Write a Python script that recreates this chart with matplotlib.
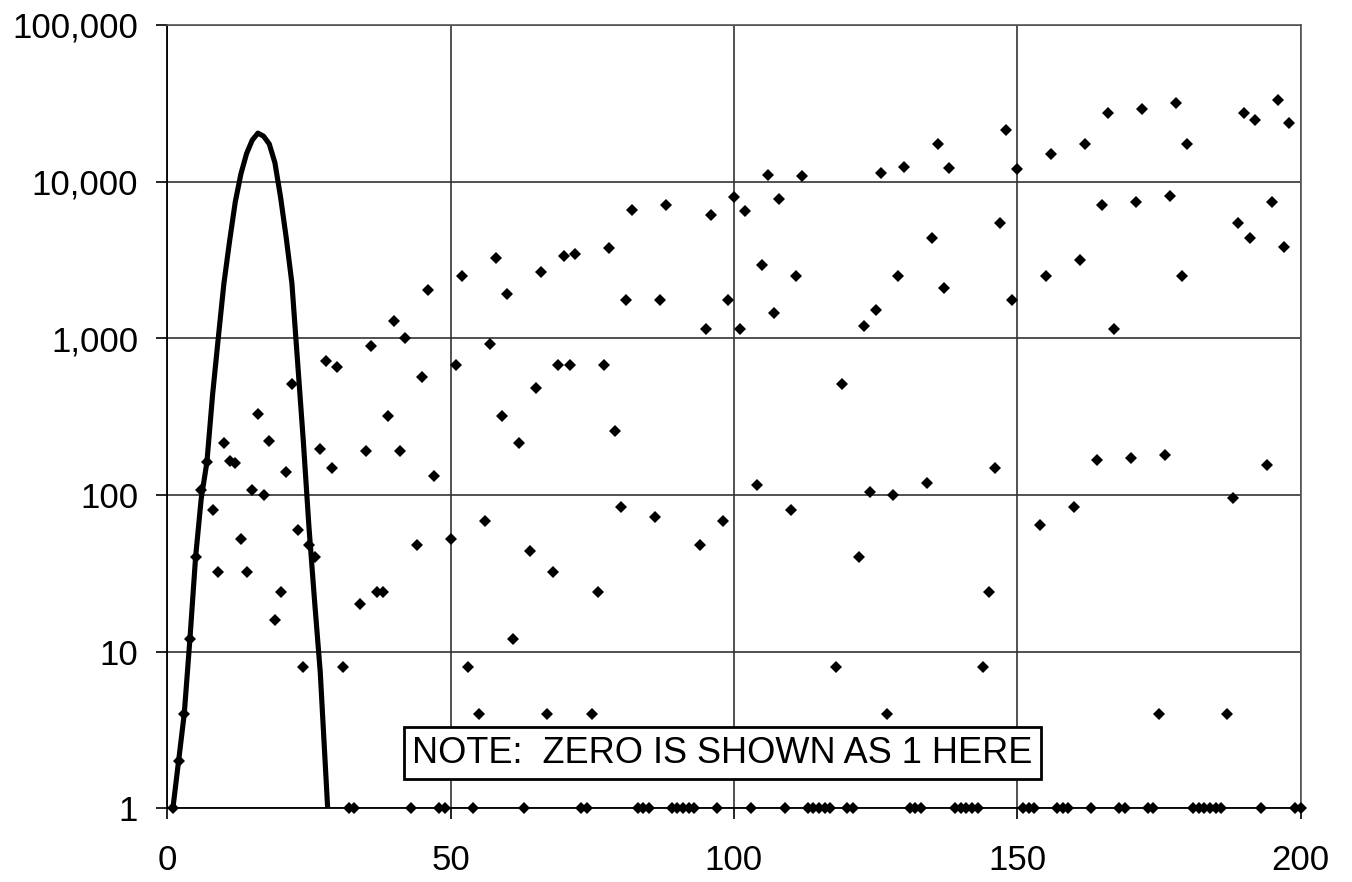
import numpy as np
import matplotlib
matplotlib.use("Agg")
import matplotlib.pyplot as plt
from matplotlib.ticker import FuncFormatter, FixedLocator, NullLocator

# -------------------------------------------------
# data (zero values are plotted as 1)
# -------------------------------------------------
counts = [
    1, 2, 4, 12, 40, 108, 162, 80, 32, 216,
    165, 160, 52, 32, 108, 328, 100, 220, 16, 24,
    140, 510, 60, 8, 48, 40, 196, 720, 148, 660,
    8, 1, 1, 20, 192, 890, 24, 24, 318, 1290,
    192, 1010, 1, 48, 570, 2040, 132, 1, 1, 52,
    675, 2500, 8, 1, 4, 68, 920, 3250, 318, 1920,
    12, 215, 1, 44, 480, 2640, 4, 32, 675, 3370,
    675, 3430, 1, 1, 4, 24, 675, 3750, 256, 84,
    1750, 6600, 1, 1, 1, 72, 1760, 7100, 1, 1,
    1, 1, 1, 48, 1150, 6100, 1, 68, 1760, 8000,
    1150, 6500, 1, 115, 2930, 11100, 1450, 7800, 1, 80,
    2500, 10800, 1, 1, 1, 1, 1, 8, 510, 1,
    1, 40, 1200, 104, 1510, 11400, 4, 100, 2500, 12400,
    1, 1, 1, 119, 4350, 17500, 2100, 12200, 1, 1,
    1, 1, 1, 8, 24, 148, 5450, 21500, 1750, 12000,
    1, 1, 1, 64, 2500, 14900, 1, 1, 1, 84,
    3150, 17500, 1, 167, 7050, 27400, 1150, 1, 1, 172,
    7400, 28900, 1, 1, 4, 179, 8100, 31600, 2500, 17300,
    1, 1, 1, 1, 1, 1, 4, 96, 5450, 27500,
    4350, 24600, 1, 155, 7400, 33200, 3800, 23800, 1, 1,
]
n_values = np.arange(1, len(counts) + 1)

curve_x = [1, 2, 3, 4, 5, 6, 7, 8, 9, 10, 11, 12, 13, 14, 15,
           16, 17, 18, 19, 20, 21, 22, 23, 24, 25, 26, 27, 28, 29]
curve_y = [1, 2, 4, 12, 40, 95, 162, 436, 1000, 2240, 4170, 7400, 11200, 15100, 18400,
           20400, 19500, 17400, 13200, 7940, 4370, 2240, 708, 224, 63, 21, 7.4, 1.6, 0.35]

x_ticks = [0, 50, 100, 150, 200]
y_ticks = [1, 10, 100, 1000, 10000, 100000]
note = "NOTE:  ZERO IS SHOWN AS 1 HERE"

# -------------------------------------------------
# plot
# -------------------------------------------------
plt.rcParams["font.family"] = ["Liberation Sans", "DejaVu Sans"]

fig = plt.figure(figsize=(13.52, 8.82), dpi=100)
ax = fig.add_axes([0.1237, 0.0836, 0.962 - 0.1237, 0.9717 - 0.0836])

ax.set_yscale("log")
ax.set_xlim(0, 200)
ax.set_ylim(1, 100000)

ax.grid(True, which="major", color="#333333", lw=1.2)
ax.set_axisbelow(True)

ax.plot(curve_x, curve_y, color="black", lw=3.7, solid_joinstyle="round", zorder=3)
ax.plot(n_values, counts, linestyle="none", marker="D", ms=5.8, mew=0,
        color="black", clip_on=False, zorder=4)

ax.xaxis.set_major_locator(FixedLocator(x_ticks))
ax.yaxis.set_major_locator(FixedLocator(y_ticks))
ax.yaxis.set_minor_locator(NullLocator())
ax.yaxis.set_major_formatter(FuncFormatter(lambda v, p: f"{v:,.0f}"))

ax.tick_params(axis="both", direction="out", length=8, width=1.2,
               labelsize=25, color="black")
ax.tick_params(axis="x", pad=18)
ax.tick_params(axis="y", pad=13)

for side in ["left", "bottom"]:
    ax.spines[side].set_color("black")
    ax.spines[side].set_linewidth(1.3)
for side in ["top", "right"]:
    ax.spines[side].set_color("#555555")
    ax.spines[side].set_linewidth(1.2)

ax.text(98.0, 2.25, note, ha="center", va="center", fontsize=26, zorder=5,
        bbox=dict(boxstyle="square,pad=0.24", fc="white", ec="black", lw=2))

fig.savefig("out.png", dpi=100)
